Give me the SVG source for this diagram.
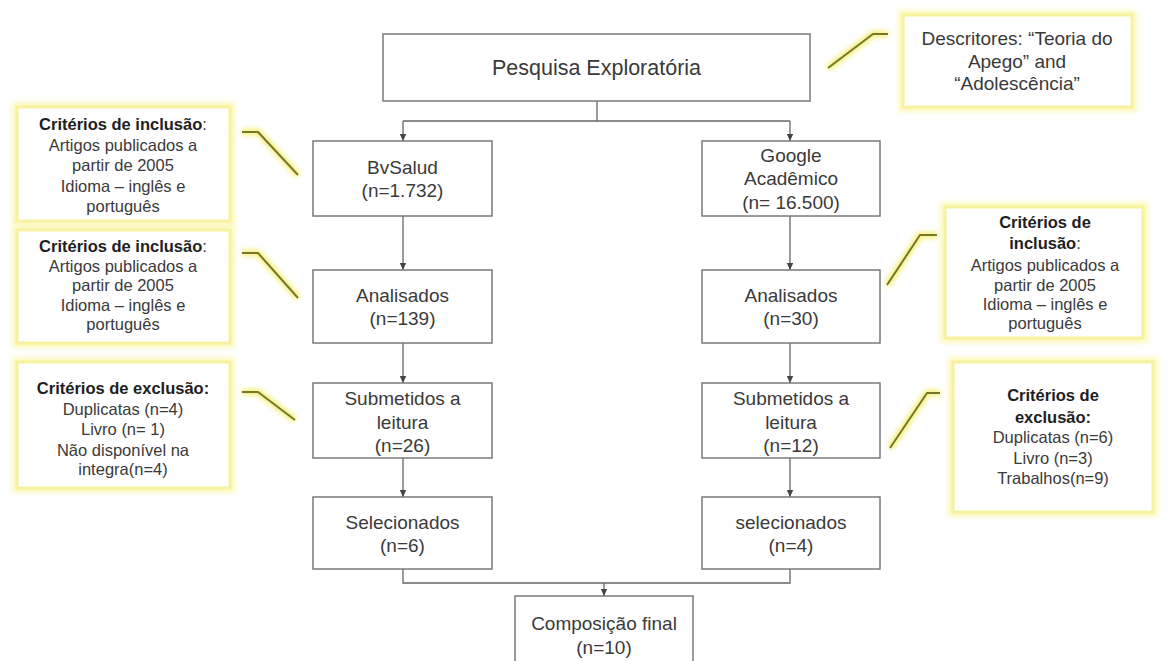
<svg xmlns="http://www.w3.org/2000/svg" width="1170" height="661" viewBox="0 0 1170 661">
<defs>
<filter id="glow" x="-20%" y="-20%" width="140%" height="140%"><feGaussianBlur stdDeviation="2.5"/></filter>
<marker id="arr" markerWidth="8" markerHeight="8" refX="7" refY="4" orient="auto" markerUnits="userSpaceOnUse"><path d="M0,0.8 L7,4 L0,7.2 Z" fill="#444"/></marker>
</defs>
<style>
.box{fill:#fff;stroke:#7a7a7a;stroke-width:1.5}
.t{font-family:"Liberation Sans",Arial,sans-serif;font-size:19px;fill:#3a3a3a;text-anchor:middle}
.c{font-family:"Liberation Sans",Arial,sans-serif;font-size:16.5px;fill:#3a3a3a;text-anchor:middle}
.b{font-weight:bold;fill:#1e1e1e}
.cg{fill:none;stroke:#fcf8b4;stroke-width:9;filter:url(#glow)}
.cb{fill:#fff;stroke:#f7f2a0;stroke-width:3}
.lg{fill:none;stroke:#f4ee70;stroke-width:6;filter:url(#glow);stroke-linejoin:round}
.ll{fill:none;stroke:#77772a;stroke-width:2;stroke-linejoin:round}
.con{fill:none;stroke:#666;stroke-width:1.3}
</style>
<rect width="1170" height="661" fill="#fff"/>

<g id="connectors">
<path class="con" d="M597,101 V121"/>
<path class="con" d="M403,121 H790"/>
<path class="con" d="M403,121 V141" marker-end="url(#arr)"/>
<path class="con" d="M790,121 V141" marker-end="url(#arr)"/>
<path class="con" d="M403,216 V270" marker-end="url(#arr)"/>
<path class="con" d="M790,216 V270" marker-end="url(#arr)"/>
<path class="con" d="M403,343 V383" marker-end="url(#arr)"/>
<path class="con" d="M790,343 V383" marker-end="url(#arr)"/>
<path class="con" d="M403,458 V497" marker-end="url(#arr)"/>
<path class="con" d="M790,458 V497" marker-end="url(#arr)"/>
<path class="con" d="M403,569 V583 H790 V569"/>
<path class="con" d="M604,583 V596" marker-end="url(#arr)"/>
</g>

<g id="leaders">
<path class="lg" d="M242,132 H258 L298,175"/>
<path class="ll" d="M242,132 H258 L298,175"/>
<path class="lg" d="M242,253 H258 L298,298"/>
<path class="ll" d="M242,253 H258 L298,298"/>
<path class="lg" d="M242,392 H258 L295,420"/>
<path class="ll" d="M242,392 H258 L295,420"/>
<path class="lg" d="M828,68 L873,34 H888"/>
<path class="ll" d="M828,68 L873,34 H888"/>
<path class="lg" d="M887,285 L920,235 H937"/>
<path class="ll" d="M887,285 L920,235 H937"/>
<path class="lg" d="M890,448 L927,393 H940"/>
<path class="ll" d="M890,448 L927,393 H940"/>
</g>

<g id="pesquisa">
<rect class="box" x="383" y="34" width="427" height="67"/>
<text class="t" x="596.5" y="75" style="font-size:21.5px">Pesquisa Exploratória</text>
</g>

<g id="bvsalud">
<rect class="box" x="313" y="141" width="179" height="75"/>
<text class="t" x="402.5" y="174">BvSalud</text>
<text class="t" x="402.5" y="197">(n=1.732)</text>
</g>
<g id="google">
<rect class="box" x="702" y="141" width="178" height="75"/>
<text class="t" x="791" y="162">Google</text>
<text class="t" x="791" y="185">Acadêmico</text>
<text class="t" x="791" y="209">(n= 16.500)</text>
</g>
<g id="analisados-l">
<rect class="box" x="313" y="270" width="179" height="73"/>
<text class="t" x="402.5" y="302">Analisados</text>
<text class="t" x="402.5" y="325">(n=139)</text>
</g>
<g id="analisados-r">
<rect class="box" x="702" y="270" width="178" height="73"/>
<text class="t" x="791" y="302">Analisados</text>
<text class="t" x="791" y="325">(n=30)</text>
</g>
<g id="submetidos-l">
<rect class="box" x="313" y="383" width="179" height="75"/>
<text class="t" x="402.5" y="405">Submetidos a</text>
<text class="t" x="402.5" y="429">leitura</text>
<text class="t" x="402.5" y="452">(n=26)</text>
</g>
<g id="submetidos-r">
<rect class="box" x="702" y="383" width="178" height="75"/>
<text class="t" x="791" y="405">Submetidos a</text>
<text class="t" x="791" y="429">leitura</text>
<text class="t" x="791" y="452">(n=12)</text>
</g>
<g id="selecionados-l">
<rect class="box" x="313" y="497" width="179" height="72"/>
<text class="t" x="402.5" y="529">Selecionados</text>
<text class="t" x="402.5" y="552">(n=6)</text>
</g>
<g id="selecionados-r">
<rect class="box" x="702" y="497" width="178" height="72"/>
<text class="t" x="791" y="529">selecionados</text>
<text class="t" x="791" y="552">(n=4)</text>
</g>
<g id="composicao">
<rect class="box" x="515" y="596" width="178" height="80"/>
<text class="t" x="604" y="630">Composição final</text>
<text class="t" x="604" y="654">(n=10)</text>
</g>

<g id="descritores">
<rect class="cg" x="903" y="15" width="229" height="92"/>
<rect class="cb" x="903" y="15" width="229" height="92"/>
<text class="t" x="1017" y="45">Descritores: “Teoria do</text>
<text class="t" x="1017" y="68">Apego” and</text>
<text class="t" x="1017" y="90">“Adolescência”</text>
</g>

<g id="inclusao-1">
<rect class="cg" x="17" y="107" width="213" height="114"/>
<rect class="cb" x="17" y="107" width="213" height="114"/>
<text class="c" x="123" y="130"><tspan class="b">Critérios de inclusão</tspan>:</text>
<text class="c" x="123" y="150.5">Artigos publicados a</text>
<text class="c" x="123" y="171">partir de 2005</text>
<text class="c" x="123" y="191.5">Idioma – inglês e</text>
<text class="c" x="123" y="212">português</text>
</g>
<g id="inclusao-2">
<rect class="cg" x="17" y="230" width="213" height="113"/>
<rect class="cb" x="17" y="230" width="213" height="113"/>
<text class="c" x="123" y="252"><tspan class="b">Critérios de inclusão</tspan>:</text>
<text class="c" x="123" y="271.5">Artigos publicados a</text>
<text class="c" x="123" y="291">partir de 2005</text>
<text class="c" x="123" y="310.5">Idioma – inglês e</text>
<text class="c" x="123" y="330">português</text>
</g>
<g id="exclusao-1">
<rect class="cg" x="17" y="362" width="213" height="126"/>
<rect class="cb" x="17" y="362" width="213" height="126"/>
<text class="c b" x="123" y="394">Critérios de exclusão:</text>
<text class="c" x="123" y="414.5">Duplicatas (n=4)</text>
<text class="c" x="123" y="435">Livro (n= 1)</text>
<text class="c" x="123" y="455.5">Não disponível na</text>
<text class="c" x="123" y="475">integra(n=4)</text>
</g>
<g id="inclusao-3">
<rect class="cg" x="945" y="207" width="198" height="131"/>
<rect class="cb" x="945" y="207" width="198" height="131"/>
<text class="c b" x="1045" y="228">Critérios de</text>
<text class="c" x="1045" y="249"><tspan class="b">inclusão</tspan>:</text>
<text class="c" x="1045" y="270.5">Artigos publicados a</text>
<text class="c" x="1045" y="290.5">partir de 2005</text>
<text class="c" x="1045" y="310">Idioma – inglês e</text>
<text class="c" x="1045" y="329">português</text>
</g>
<g id="exclusao-2">
<rect class="cg" x="953" y="362" width="200" height="150"/>
<rect class="cb" x="953" y="362" width="200" height="150"/>
<text class="c b" x="1053" y="401">Critérios de</text>
<text class="c b" x="1053" y="422.5">exclusão:</text>
<text class="c" x="1053" y="443">Duplicatas (n=6)</text>
<text class="c" x="1053" y="463.5">Livro (n=3)</text>
<text class="c" x="1053" y="484">Trabalhos(n=9)</text>
</g>
</svg>
